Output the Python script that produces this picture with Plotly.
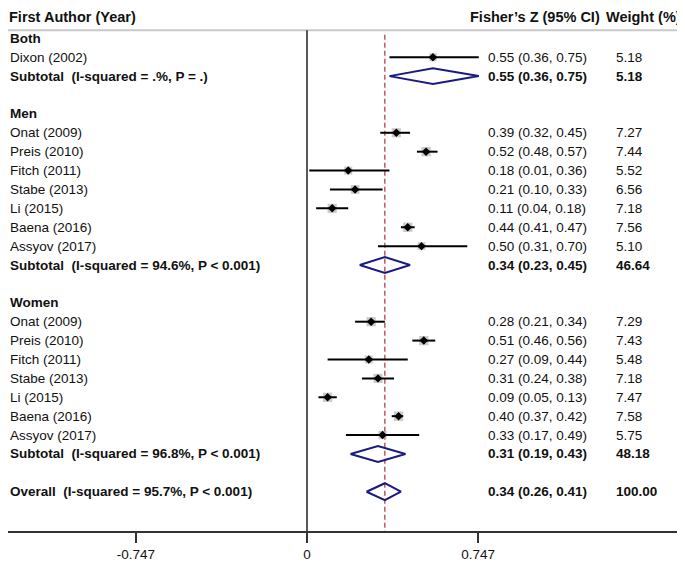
import plotly.graph_objects as go

# ---------------- data ----------------
group_names = ["Both", "Men", "Women"]

both_studies = ["Dixon (2002)"]
both_est = [0.55]
both_lo = [0.36]
both_hi = [0.75]
both_wt = [5.18]

men_studies = ["Onat (2009)", "Preis (2010)", "Fitch (2011)", "Stabe (2013)",
               "Li (2015)", "Baena (2016)", "Assyov (2017)"]
men_est = [0.39, 0.52, 0.18, 0.21, 0.11, 0.44, 0.50]
men_lo = [0.32, 0.48, 0.01, 0.10, 0.04, 0.41, 0.31]
men_hi = [0.45, 0.57, 0.36, 0.33, 0.18, 0.47, 0.70]
men_wt = [7.27, 7.44, 5.52, 6.56, 7.18, 7.56, 5.10]

women_studies = ["Onat (2009)", "Preis (2010)", "Fitch (2011)", "Stabe (2013)",
                 "Li (2015)", "Baena (2016)", "Assyov (2017)"]
women_est = [0.28, 0.51, 0.27, 0.31, 0.09, 0.40, 0.33]
women_lo = [0.21, 0.46, 0.09, 0.24, 0.05, 0.37, 0.17]
women_hi = [0.34, 0.56, 0.44, 0.38, 0.13, 0.42, 0.49]
women_wt = [7.29, 7.43, 5.48, 7.18, 7.47, 7.58, 5.75]

subtotal_est = [0.55, 0.34, 0.31]
subtotal_lo = [0.36, 0.23, 0.19]
subtotal_hi = [0.75, 0.45, 0.43]
subtotal_wt = [5.18, 46.64, 48.18]
subtotal_i2 = [".%", "94.6%", "96.8%"]
subtotal_p = ["= .", "&lt; 0.001", "&lt; 0.001"]

overall_est = 0.34
overall_lo = 0.26
overall_hi = 0.41
overall_wt = 100.00
overall_i2 = "95.7%"
overall_p = "&lt; 0.001"

tick_vals = [-0.747, 0, 0.747]
tick_text = ["-0.747", "0", "0.747"]

# ---------------- styling ----------------
OFF = 8                      # browser body margin
W, H = 685 - OFF, 562 - OFF  # figure size
FONT = "Arial, Liberation Sans, sans-serif"
FS = 13.5
NAVY = "#1a1a80"
RED = "#b03030"
BOXGRAY = "#b4b4b4"
TXT = "#111111"

# pixel geometry (page pixels, converted to figure-local)
X0_PX, PX_PER_UNIT = 307.0 - OFF, 229.0
ROW0_PX, ROW_PX = 38.5 - OFF, 19.0
AXIS_PX = 534.0 - OFF

xr = [(0 - X0_PX) / PX_PER_UNIT, (W - X0_PX) / PX_PER_UNIT]
yr = [(AXIS_PX - ROW0_PX) / ROW_PX, (0 - ROW0_PX) / ROW_PX]


def row_of(page_y):
    return (page_y - OFF - ROW0_PX) / ROW_PX


COL_LABEL = 0.0
COL_EST = 478 / W
COL_WT = 606 / W

fig = go.Figure()
annotations = []


def add_text(xp, row, text, bold=False, anchor="left", size=FS, pad=1):
    annotations.append(dict(
        x=xp, xref="paper", y=row, yref="y", text=("<b>%s</b>" % text) if bold else text,
        showarrow=False, xanchor=anchor, yanchor="middle", borderpad=pad,
        font=dict(family=FONT, size=size, color=TXT)))


groups = [
    (both_studies, both_est, both_lo, both_hi, both_wt),
    (men_studies, men_est, men_lo, men_hi, men_wt),
    (women_studies, women_est, women_lo, women_hi, women_wt),
]

study_rows, study_est, study_wt = [], [], []
ci_x, ci_y = [], []
dia_x, dia_y = [], []

row = 0
for gi, (names, est, lo, hi, wt) in enumerate(groups):
    add_text(COL_LABEL, row, group_names[gi], bold=True)
    row += 1
    for n, e, l, h, w in zip(names, est, lo, hi, wt):
        add_text(COL_LABEL, row, n)
        add_text(COL_EST, row, "%.2f (%.2f, %.2f)" % (e, l, h))
        add_text(COL_WT, row, "%.2f" % w)
        ci_x += [l, h, None]
        ci_y += [row, row, None]
        study_rows.append(row)
        study_est.append(e)
        study_wt.append(w)
        row += 1
    se, sl, sh = subtotal_est[gi], subtotal_lo[gi], subtotal_hi[gi]
    add_text(COL_LABEL, row,
             "Subtotal\u00a0\u00a0(I-squared = %s, P %s)" % (subtotal_i2[gi], subtotal_p[gi]), bold=True)
    add_text(COL_EST, row, "%.2f (%.2f, %.2f)" % (se, sl, sh), bold=True)
    add_text(COL_WT, row, "%.2f" % subtotal_wt[gi], bold=True)
    dia_x += [sl, se, sh, se, sl, None]
    dia_y += [row, row - 0.42, row, row + 0.42, row, None]
    row += 2

# overall
add_text(COL_LABEL, row, "Overall\u00a0\u00a0(I-squared = %s, P %s)" % (overall_i2, overall_p), bold=True)
add_text(COL_EST, row, "%.2f (%.2f, %.2f)" % (overall_est, overall_lo, overall_hi), bold=True)
add_text(COL_WT, row, "%.2f" % overall_wt, bold=True)
dia_x += [overall_lo, overall_est, overall_hi, overall_est, overall_lo, None]
dia_y += [row, row - 0.45, row, row + 0.45, row, None]

# headers
HEAD_ROW = row_of(17.5)
add_text(COL_LABEL, HEAD_ROW, "First Author (Year)", bold=True, size=14.5, pad=0)
add_text(593 / W, HEAD_ROW, "Fisher\u2019s Z (95% CI)", bold=True, anchor="right", size=14.5, pad=0)
add_text(597 / W, HEAD_ROW, "Weight (%)", bold=True, size=14.5, pad=0)

# weight boxes
fig.add_trace(go.Scatter(
    x=study_est, y=study_rows, mode="markers",
    marker=dict(symbol="square", color=BOXGRAY, size=[3.4 * w ** 0.5 for w in study_wt],
                line=dict(width=0)),
    hoverinfo="skip", showlegend=False))
# CI lines
fig.add_trace(go.Scatter(x=ci_x, y=ci_y, mode="lines", line=dict(color="black", width=2),
                         hoverinfo="skip", showlegend=False))
# point estimates
fig.add_trace(go.Scatter(
    x=study_est, y=study_rows, mode="markers",
    marker=dict(symbol="diamond", color="black", size=6.5, line=dict(width=0)),
    hoverinfo="skip", showlegend=False))
# diamonds
fig.add_trace(go.Scatter(x=dia_x, y=dia_y, mode="lines", line=dict(color=NAVY, width=2),
                         hoverinfo="skip", showlegend=False))

GRAY_ROW = row_of(30.5)
shapes = [
    dict(type="line", xref="paper", x0=0, x1=1, yref="y", y0=GRAY_ROW, y1=GRAY_ROW,
         line=dict(color="#c8c8c8", width=2), layer="below"),
    dict(type="line", xref="x", x0=0, x1=0, yref="y", y0=GRAY_ROW, y1=yr[0],
         line=dict(color="#222222", width=1.5)),
    dict(type="line", xref="x", x0=overall_est, x1=overall_est, yref="y",
         y0=row_of(35), y1=yr[0],
         line=dict(color=RED, width=1.2, dash="5px,3px"), layer="below"),
]

fig.update_layout(
    width=W, height=H,
    margin=dict(l=0, r=0, t=0, b=H - AXIS_PX),
    plot_bgcolor="white", paper_bgcolor="white",
    showlegend=False,
    annotations=annotations,
    shapes=shapes,
    xaxis=dict(range=xr, showgrid=False, zeroline=False, showline=True,
               linecolor="#333333", linewidth=2, ticks="outside", ticklen=10,
               tickwidth=1.5, tickcolor="#333333", tickvals=tick_vals, ticktext=tick_text,
               tickfont=dict(family=FONT, size=13.5, color=TXT), fixedrange=True),
    yaxis=dict(range=yr, showgrid=False, zeroline=False, showline=False,
               showticklabels=False, ticks="", fixedrange=True),
)

fig.write_html("out.html")
